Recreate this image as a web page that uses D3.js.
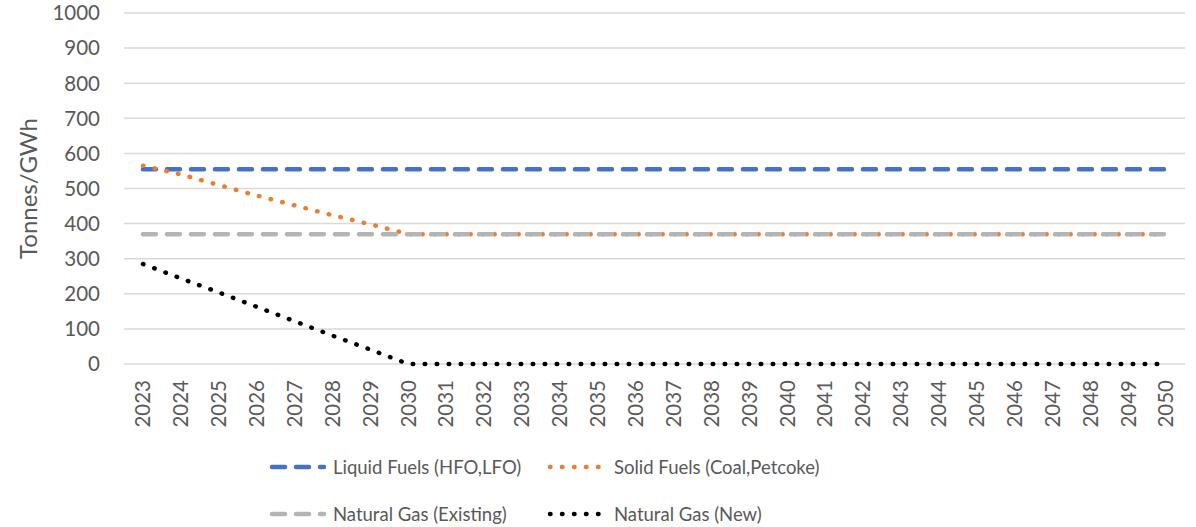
<!DOCTYPE html>
<html>
<head>
<meta charset="utf-8">
<script src="https://cdn.jsdelivr.net/npm/d3@7"></script>
<style>
  body { margin: 0; background: #fff; }
  svg { display: block; font-family: Lato, "Open Sans", sans-serif; }
</style>
</head>
<body>
<svg width="1196" height="527"></svg>
<script>
const years = d3.range(2023, 2051).map(String);
const liquidFuels = years.map(() => 555);
const solidFuels = [565, 540, 510, 480, 452, 424, 398, 370].concat(d3.range(20).map(() => 370));
const gasExisting = years.map(() => 370);
const gasNew = [285, 244, 204, 163, 122, 81, 41, 0].concat(d3.range(20).map(() => 0));
const yTicks = [0, 100, 200, 300, 400, 500, 600, 700, 800, 900, 1000];

const series = [
  { name: 'Liquid Fuels (HFO,LFO)', values: liquidFuels, color: '#4472C4', dash: '13,11', w: 4.5 },
  { name: 'Solid Fuels (Coal,Petcoke)', values: solidFuels, color: '#ED7D31', dash: '0.5,11.5', w: 4.5 },
  { name: 'Natural Gas (Existing)', values: gasExisting, color: '#B4B4B4', dash: '13,11', w: 4.5 },
  { name: 'Natural Gas (New)', values: gasNew, color: '#000000', dash: '0.5,11.5', w: 4.5 }
];

const svg = d3.select('svg');
const plotLeft = 124, plotRight = 1185, plotTop = 13, plotBottom = 364;

const x = d3.scaleBand().domain(years).range([plotLeft, plotRight]);
const y = d3.scaleLinear().domain([0, 1000]).range([plotBottom, plotTop]);

// gridlines
svg.append('g')
  .selectAll('line')
  .data(yTicks)
  .enter()
  .append('line')
    .attr('x1', plotLeft)
    .attr('x2', plotRight)
    .attr('y1', d => y(d))
    .attr('y2', d => y(d))
    .attr('stroke', '#D9D9D9')
    .attr('stroke-width', 1.5);

// y axis labels
svg.append('g')
  .selectAll('text')
  .data(yTicks)
  .enter()
  .append('text')
    .attr('x', 100)
    .attr('y', d => y(d))
    .attr('dy', '0.36em')
    .attr('text-anchor', 'end')
    .attr('fill', '#595959')
    .attr('font-size', 20.5)
    .text(d => d);

svg.append('text')
  .attr('transform', `translate(37,${(plotTop + plotBottom) / 2}) rotate(-90)`)
  .attr('text-anchor', 'middle')
  .attr('fill', '#595959')
  .attr('font-size', 24)
  .text('Tonnes/GWh');

// x axis labels
svg.append('g')
  .selectAll('text')
  .data(years)
  .enter()
  .append('text')
    .attr('transform', d => `translate(${x(d) + x.bandwidth() / 2},380) rotate(-90)`)
    .attr('dy', '0.36em')
    .attr('text-anchor', 'end')
    .attr('fill', '#595959')
    .attr('font-size', 20.5)
    .text(d => d);

// lines
const line = d3.line()
  .x((d, i) => x(years[i]) + x.bandwidth() / 2)
  .y(d => y(d));

svg.append('g')
  .selectAll('path')
  .data(series)
  .enter()
  .append('path')
    .attr('d', d => line(d.values))
    .attr('fill', 'none')
    .attr('stroke', d => d.color)
    .attr('stroke-width', d => d.w)
    .attr('stroke-dasharray', d => d.dash)
    .attr('stroke-linecap', 'round');

// legend
const legendPos = [
  { x: 270, y: 467 },
  { x: 548, y: 467 },
  { x: 270, y: 514 },
  { x: 548, y: 514 }
];
const legend = svg.append('g')
  .selectAll('g')
  .data(series)
  .enter()
  .append('g')
    .attr('transform', (d, i) => `translate(${legendPos[i].x},${legendPos[i].y})`);

legend.append('line')
  .attr('x1', 2)
  .attr('x2', 54)
  .attr('stroke', d => d.color)
  .attr('stroke-width', d => d.w)
  .attr('stroke-dasharray', d => d.dash)
  .attr('stroke-linecap', 'round');

legend.append('text')
  .attr('x', (d, i) => i % 2 === 0 ? 63 : 66)
  .attr('dy', '0.36em')
  .attr('fill', '#595959')
  .attr('font-size', 18.5)
  .text(d => d.name);
</script>
</body>
</html>
